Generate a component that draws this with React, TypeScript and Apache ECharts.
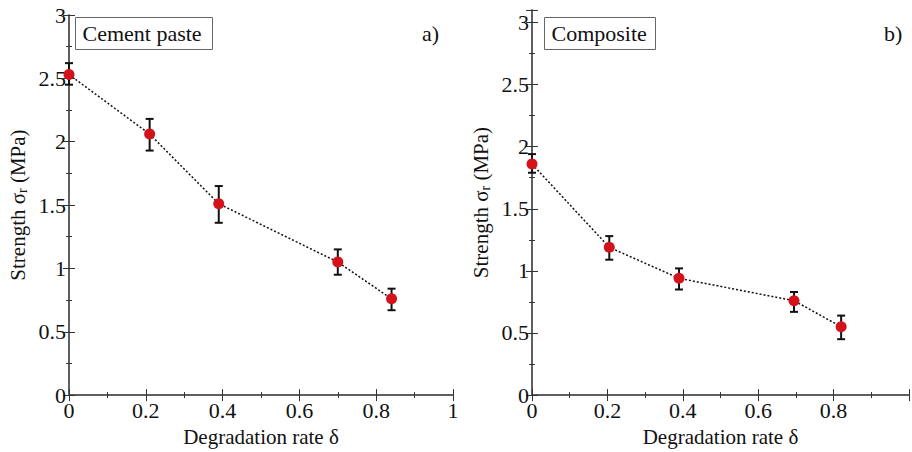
import { useEffect, useRef } from 'react'
import * as echarts from 'echarts'

const pasteX = [0, 0.21, 0.39, 0.7, 0.84]
const pasteY = [2.53, 2.06, 1.51, 1.05, 0.76]
const pasteLow = [2.45, 1.93, 1.36, 0.95, 0.67]
const pasteHigh = [2.62, 2.18, 1.65, 1.15, 0.84]

const compX = [0, 0.205, 0.39, 0.695, 0.82]
const compY = [1.86, 1.19, 0.94, 0.76, 0.55]
const compLow = [1.79, 1.09, 0.85, 0.67, 0.45]
const compHigh = [1.94, 1.28, 1.02, 0.83, 0.64]

const FONT = 'serif'

function errorSeries(xs: number[], lo: number[], hi: number[], idx: number) {
  return {
    type: 'custom',
    xAxisIndex: idx * 2,
    yAxisIndex: idx * 2,
    z: 3,
    data: xs.map((x, i) => [x, lo[i], hi[i]]),
    renderItem: (_p: any, api: any) => {
      const a = api.coord([api.value(0), api.value(1)])
      const b = api.coord([api.value(0), api.value(2)])
      const st = { stroke: '#111', lineWidth: 2 }
      return {
        type: 'group',
        children: [
          { type: 'line', shape: { x1: a[0], y1: a[1], x2: b[0], y2: b[1] }, style: st },
          { type: 'line', shape: { x1: a[0] - 4, y1: a[1], x2: a[0] + 4, y2: a[1] }, style: st },
          { type: 'line', shape: { x1: b[0] - 4, y1: b[1], x2: b[0] + 4, y2: b[1] }, style: st }
        ]
      }
    }
  }
}

export default function App() {
  const ref = useRef<HTMLDivElement>(null)

  useEffect(() => {
    document.body.style.margin = '0'
    const chart = echarts.init(ref.current!, null, { renderer: 'svg' })
    const axisLine = { lineStyle: { color: '#555', width: 1.5 } }
    const tick = { inside: true, length: 6, lineStyle: { color: '#333' } }
    const minor = { show: true, splitNumber: 2, length: 3, lineStyle: { color: '#333' } }
    const label = { color: '#111', fontFamily: FONT, fontSize: 22 }
    const nameStyle = { color: '#111', fontFamily: FONT, fontSize: 21 }
    const yName = '{a|Strength σ}{s|r}{a| (MPa)}'
    const yRich = {
      a: { fontFamily: FONT, fontSize: 21, color: '#111' },
      s: { fontFamily: FONT, fontSize: 14, color: '#111', padding: [8, 0, 0, 0] }
    }

    const mkX = (gi: number) => [
      {
        type: 'value', gridIndex: gi, min: 0, max: 1, interval: 0.2,
        name: 'Degradation rate δ', nameLocation: 'middle', nameGap: 27, nameTextStyle: nameStyle,
        axisLine, axisTick: tick, minorTick: minor, splitLine: { show: false },
        axisLabel: { ...label, margin: 4, formatter: (v: number) => (gi === 1 && v === 1 ? '' : String(+v.toFixed(1))) }
      },
      {
        type: 'value', gridIndex: gi, position: 'top', min: 0, max: 1, interval: 0.2,
        axisLine, axisTick: tick, minorTick: minor, splitLine: { show: false }, axisLabel: { show: false }
      }
    ]
    const mkY = (gi: number, max: number) => [
      {
        type: 'value', gridIndex: gi, min: 0, max, interval: 0.5,
        name: yName, nameLocation: 'middle', nameGap: 40, nameTextStyle: { ...nameStyle, rich: yRich },
        axisLine, axisTick: tick, minorTick: minor, splitLine: { show: false },
        axisLabel: {
          ...label, margin: 3,
          formatter: (v: number) => (Math.abs(v * 2 - Math.round(v * 2)) < 1e-6 ? String(v) : ''),
          padding: [0, 0, 8, 0]
        }
      },
      {
        type: 'value', gridIndex: gi, position: 'right', min: 0, max, interval: 0.5,
        axisLine, axisTick: tick, minorTick: minor, splitLine: { show: false }, axisLabel: { show: false }
      }
    ]

    const lineSeries = (xs: number[], ys: number[], idx: number) => ({
      type: 'line',
      xAxisIndex: idx * 2,
      yAxisIndex: idx * 2,
      data: xs.map((x, i) => [x, ys[i]]),
      symbol: 'circle',
      symbolSize: 11,
      z: 4,
      itemStyle: { color: '#d3121c' },
      lineStyle: { color: '#111', width: 1.5, type: [2, 2] }
    })

    const boxLabel = (x: number, y: number, w: number, text: string) => ({
      type: 'group', left: x, top: y,
      children: [
        { type: 'rect', shape: { x: 0, y: 0, width: w, height: 32 }, style: { fill: '#fff', stroke: '#666', lineWidth: 1 } },
        { type: 'text', x: 7, y: 5, style: { text, font: `22px ${FONT}`, fill: '#111' } }
      ]
    })

    chart.setOption({
      animation: false,
      textStyle: { fontFamily: FONT },
      grid: [
        { left: 69, top: 15, width: 384, height: 385 },
        { left: 532, top: 10, width: 385, height: 389 }
      ],
      xAxis: [...mkX(0), ...mkX(1)],
      yAxis: [...mkY(0, 3), ...mkY(1, 3.1)],
      series: [
        lineSeries(pasteX, pasteY, 0),
        errorSeries(pasteX, pasteLow, pasteHigh, 0),
        lineSeries(compX, compY, 1),
        errorSeries(compX, compLow, compHigh, 1)
      ],
      graphic: [
        boxLabel(75, 17, 137, 'Cement paste'),
        boxLabel(544, 17, 111, 'Composite'),
        { type: 'text', left: 422, top: 22, style: { text: 'a)', font: `22px ${FONT}`, fill: '#111' } },
        { type: 'text', left: 884, top: 22, style: { text: 'b)', font: `22px ${FONT}`, fill: '#111' } }
      ]
    })
    return () => chart.dispose()
  }, [])

  return <div ref={ref} style={{ width: 912, height: 452 }} />
}
